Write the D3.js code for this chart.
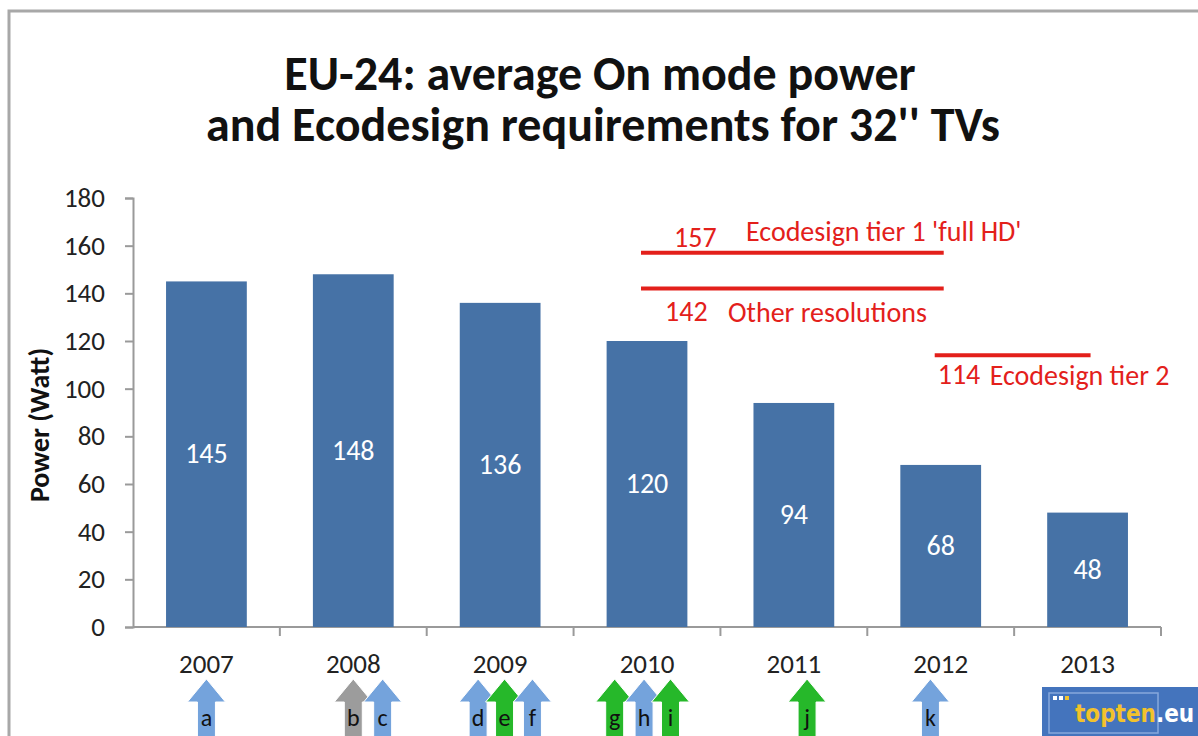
<!DOCTYPE html>
<html>
<head>
<meta charset="utf-8">
<title>EU-24 average On mode power</title>
<style>
  body { margin: 0; background: #fff; }
  svg { display: block; font-family: Carlito, "Open Sans", sans-serif; }
  .axis path, .axis line { stroke: #9a9a9a; stroke-width: 2; fill: none; }
  .axis text { fill: #222; font-size: 27px; font-family: Carlito, "Open Sans", sans-serif; }
</style>
</head>
<body>
<script src="https://cdnjs.cloudflare.com/ajax/libs/d3/7.8.5/d3.min.js"></script>
<script>
// chart data
var years = ["2007", "2008", "2009", "2010", "2011", "2012", "2013"];
var power = [145, 148, 136, 120, 94, 68, 48];
var yTicks = [0, 20, 40, 60, 80, 100, 120, 140, 160, 180];

// ecodesign limits: value, from year, to year, label
var limitValues = [157, 142, 114];
var limitFrom = [2010, 2010, 2012];
var limitTo = [2012, 2012, 2013];
var limitLabels = ["Ecodesign tier 1 'full HD'", "Other resolutions", "Ecodesign tier 2"];

// event arrows under the axis (time as fractional year)
var arrowTimes = [2007.0, 2008.0, 2008.2, 2008.85, 2009.03, 2009.22, 2009.78, 2009.98, 2010.16, 2011.09, 2011.93];
var arrowLetters = ["a", "b", "c", "d", "e", "f", "g", "h", "i", "j", "k"];
var arrowKinds = ["blue", "gray", "blue", "blue", "green", "blue", "green", "blue", "green", "green", "blue"];

var W = 1198, H = 736;
var margin = {top: 198, left: 133, right: 37, bottom: 109};
var width = W - margin.left - margin.right,
    height = H - margin.top - margin.bottom;

var svg = d3.select("body").append("svg")
  .attr("width", W).attr("height", H);

// frame
svg.append("path")
  .attr("d", "M9," + H + "V11H" + W)
  .attr("fill", "none").attr("stroke", "#a8a8a8").attr("stroke-width", 3);

// title (one text, two lines)
var title = svg.append("text")
  .attr("text-anchor", "middle").attr("font-size", 48).attr("font-weight", "bold")
  .attr("fill", "#111");
title.append("tspan").attr("x", 600).attr("y", 90).text("EU-24: average On mode power");
title.append("tspan").attr("x", 603).attr("y", 141).text("and Ecodesign requirements for 32'' TVs");

var g = svg.append("g").attr("transform", "translate(" + margin.left + "," + margin.top + ")");

var x = d3.scaleBand().domain(years).range([0, width]).paddingInner(0.45).paddingOuter(0.225);
var y = d3.scaleLinear().domain([0, 180]).range([height, 0]);
// year -> x for things placed on a time position
var t = d3.scaleLinear()
  .domain([2007, 2013])
  .range([x("2007") + x.bandwidth() / 2, x("2013") + x.bandwidth() / 2]);

// y axis
g.append("g").attr("class", "axis")
  .call(d3.axisLeft(y).tickValues(yTicks).tickSize(8).tickSizeOuter(8).tickPadding(20));

// x axis with ticks between categories
var xAxis = g.append("g").attr("class", "axis")
  .attr("transform", "translate(0," + height + ")")
  .call(d3.axisBottom(x).tickSize(0).tickPadding(27));
xAxis.select(".domain").remove();
xAxis.append("path").attr("class", "domain")
  .attr("d", "M0,0H" + width);
xAxis.selectAll(".sep").data(years).enter().append("line")
  .attr("x1", function(d) { return x(d) + x.bandwidth() / 2 + x.step() / 2; })
  .attr("x2", function(d) { return x(d) + x.bandwidth() / 2 + x.step() / 2; })
  .attr("y1", 0).attr("y2", 9);
xAxis.selectAll("text").attr("fill", "#111");

// y label
svg.append("text")
  .attr("transform", "translate(49,425) rotate(-90)")
  .attr("text-anchor", "middle").attr("font-size", 28).attr("font-weight", "bold")
  .attr("fill", "#111").text("Power (Watt)");

// bars
g.selectAll(".bar").data(years).enter().append("rect")
  .attr("x", function(d) { return x(d); })
  .attr("width", x.bandwidth())
  .attr("y", function(d, i) { return y(power[i]); })
  .attr("height", function(d, i) { return height - y(power[i]); })
  .attr("fill", "#4672a6");

g.selectAll(".val").data(years).enter().append("text")
  .attr("x", function(d) { return x(d) + x.bandwidth() / 2; })
  .attr("y", function(d, i) { return (y(power[i]) + height) / 2 + 9; })
  .attr("text-anchor", "middle").attr("font-size", 28).attr("fill", "#fff")
  .text(function(d, i) { return power[i]; });

// ecodesign limit lines
var red = "#e3201b";
limitValues.forEach(function(v, i) {
  g.append("line")
    .attr("x1", t(limitFrom[i]) - 6).attr("x2", t(limitTo[i]) + 3)
    .attr("y1", y(v)).attr("y2", y(v))
    .attr("stroke", red).attr("stroke-width", 4);
});
// labels of limits
var lab = g.append("g").attr("font-size", 28).attr("fill", red);
lab.append("text").attr("x", t(2010) + 27).attr("y", y(limitValues[0]) - 6).text(limitValues[0]);
lab.append("text").attr("x", t(2010) + 99).attr("y", y(limitValues[0]) - 12).text(limitLabels[0]);
lab.append("text").attr("x", t(2010) + 18).attr("y", y(limitValues[1]) + 32).text(limitValues[1]);
lab.append("text").attr("x", t(2010) + 81).attr("y", y(limitValues[1]) + 33).text(limitLabels[1]);
lab.append("text").attr("x", t(2012) - 3).attr("y", y(limitValues[2]) + 29).text(limitValues[2]);
lab.append("text").attr("x", t(2012) + 49).attr("y", y(limitValues[2]) + 30).text(limitLabels[2]);

// arrows
var arrowFill = {blue: "#74a3dc", gray: "#9c9c9c", green: "#26b82a"};
var arrows = svg.append("g");
arrowTimes.forEach(function(tm, i) {
  var cx = margin.left + t(tm), top = 679;
  var a = arrows.append("g");
  a.append("path")
    .attr("d", "M" + cx + "," + top +
      "L" + (cx + 19) + "," + (top + 23) +
      "H" + (cx + 9) + "V" + (H + 2) +
      "H" + (cx - 9) + "V" + (top + 23) +
      "H" + (cx - 19) + "Z")
    .attr("fill", arrowFill[arrowKinds[i]])
    .attr("stroke", "#fff").attr("stroke-width", 1);
  a.append("text").attr("x", cx).attr("y", 726)
    .attr("text-anchor", "middle").attr("font-size", 24).attr("fill", "#111")
    .text(arrowLetters[i]);
});

// topten.eu logo
var logo = svg.append("g").attr("transform", "translate(1042,687)");
logo.append("rect").attr("width", 156).attr("height", 49).attr("fill", "#4474bd");
logo.append("rect").attr("x", 7).attr("y", 6).attr("width", 109).attr("height", 40)
  .attr("fill", "none").attr("stroke", "#86a8dc").attr("stroke-width", 1.5);
[0, 1, 2].forEach(function(k) {
  logo.append("rect").attr("x", 11 + k * 6).attr("y", 9).attr("width", 4).attr("height", 4)
    .attr("fill", k === 2 ? "#f2c22c" : "#fff");
});
var lt = logo.append("text").attr("x", 33).attr("y", 35)
  .attr("font-size", 24).attr("font-weight", "bold")
  .attr("font-family", "'DejaVu Sans Condensed', 'Liberation Sans Narrow', sans-serif");
lt.append("tspan").attr("fill", "#f2c22c").text("topten");
lt.append("tspan").attr("fill", "#fff").text(".eu");
</script>
</body>
</html>
